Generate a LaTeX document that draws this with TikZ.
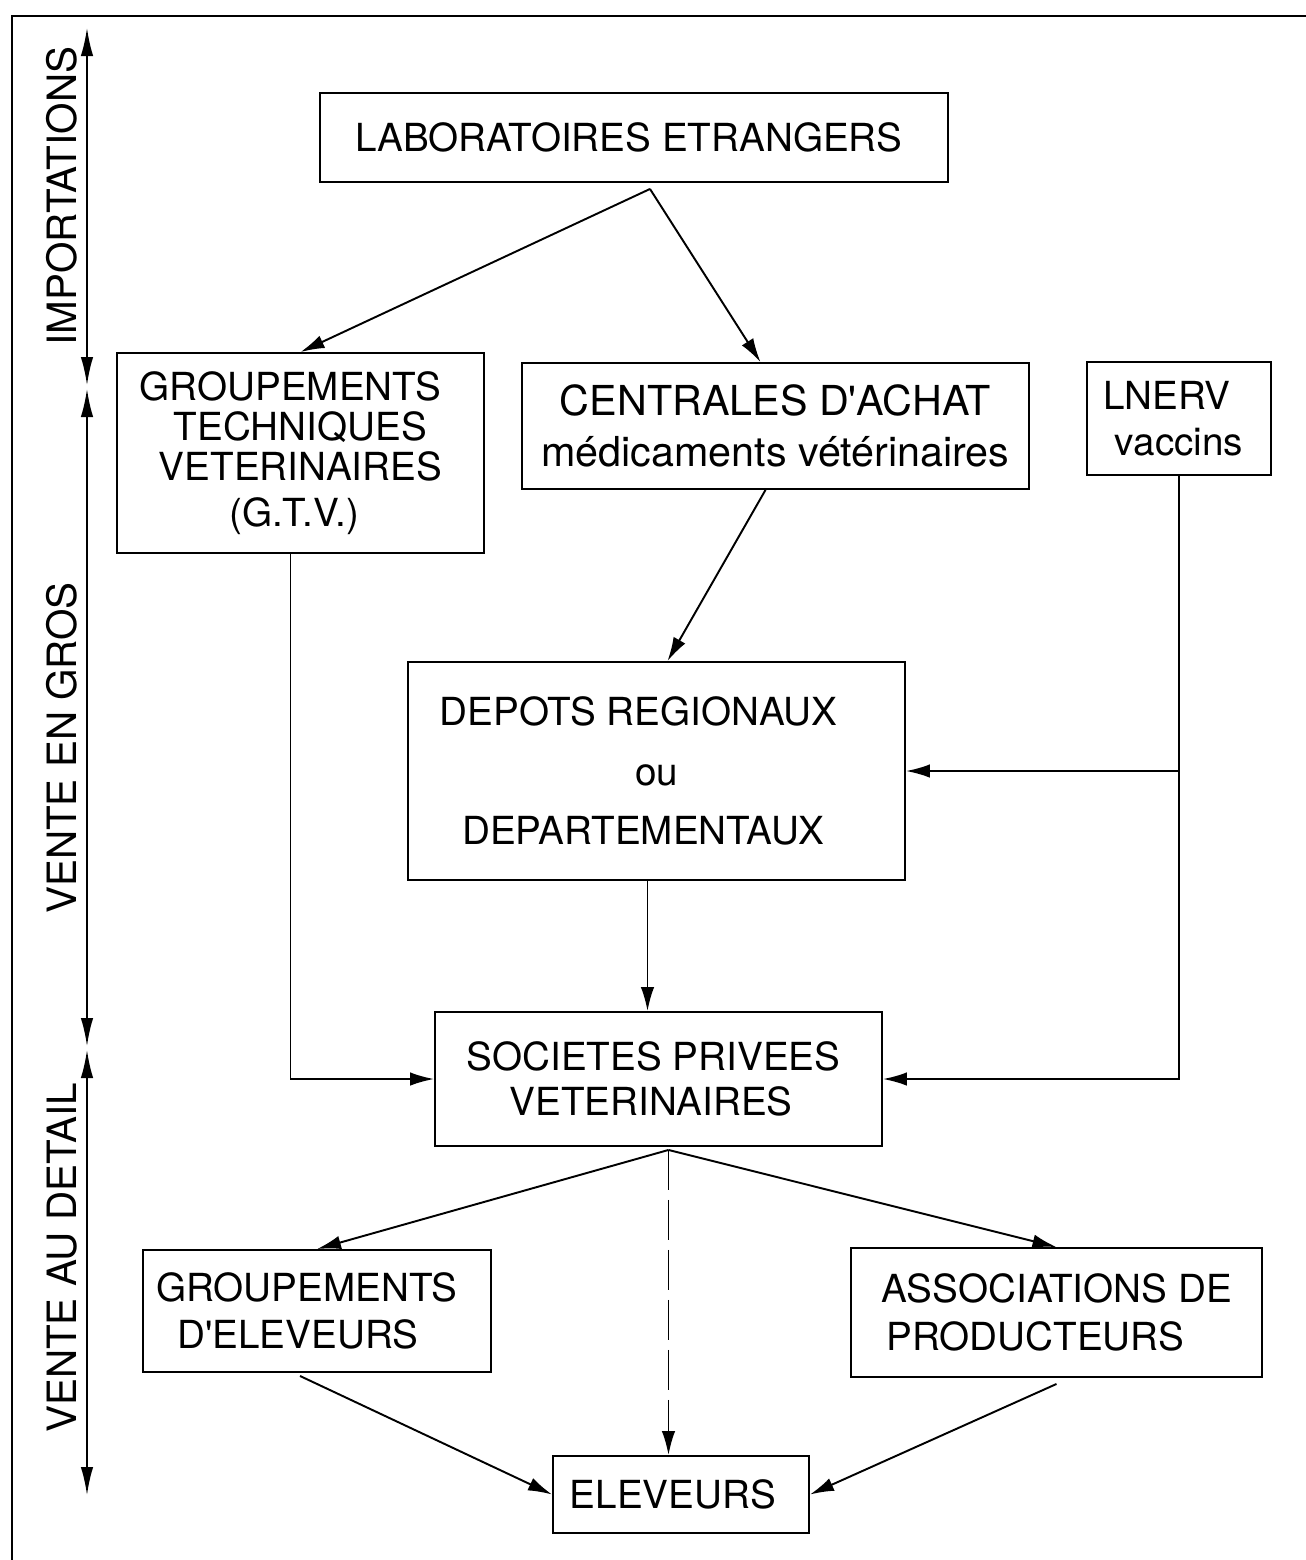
\documentclass[tikz,border=0pt]{standalone}
\usepackage{fontspec}
\setmainfont{TeX Gyre Heros}
\usetikzlibrary{arrows.meta}
\tikzset{
 boite/.style={draw,line width=1.1pt,align=center,inner sep=0pt,font=\fontsize{22}{23}\selectfont},
 fleche/.style={-{Latex[length=0.48cm,width=0.27cm]},line width=1.1pt},
 axe/.style={{Latex[length=0.56cm,width=0.25cm]}-{Latex[length=0.56cm,width=0.25cm]},line width=1.1pt},
 phase/.style={rotate=90,font=\fontsize{23}{26}\selectfont},
}
\newcommand{\gauche}[1]{\hspace*{#1}}
\newcommand{\apos}{\textquotesingle}
\begin{document}
\begin{tikzpicture}[x=0.02cm,y=-0.02cm]
\useasboundingbox (0,0) rectangle (1306,1560);
\draw[line width=1.5pt] (1306,16) -- (12,16) -- (12,1560);
% echelle des phases
\coordinate (ax1) at (87,28);
\coordinate (ax2) at (87,385);
\coordinate (ax3) at (87,389);
\coordinate (ax4) at (87,1046);
\coordinate (ax5) at (87,1050);
\coordinate (ax6) at (87,1495);
\draw[axe] (ax1) -- (ax2);
\draw[axe] (ax3) -- (ax4);
\draw[axe] (ax5) -- (ax6);
\node[phase] (imp) at (62,196) {IMPORTATIONS};
\node[phase] (gros) at (62,748) {VENTE EN GROS};
\node[phase] (detail) at (62,1258) {VENTE AU DETAIL};
% boites
\node[boite,minimum width=12.56cm,minimum height=1.78cm] (lab) at (634,137.5) {LABORATOIRES ETRANGERS\gauche{0.2cm}};
\node[boite,minimum width=7.34cm,minimum height=4cm] (gtv) at (300.5,453) {GROUPEMENTS\gauche{0.4cm}\\TECHNIQUES\gauche{0.5cm}\\VETERINAIRES\gauche{0.4cm}\\[3pt](G.T.V.)\gauche{0.25cm}};
\node[boite,minimum width=10.14cm,minimum height=2.52cm,font=\fontsize{23.5}{23}\selectfont] (centr) at (775.5,426) {CENTRALES D\apos ACHAT\\[6pt]médicaments vétérinaires};
\node[boite,minimum width=3.68cm,minimum height=2.26cm] (lnerv) at (1179,418.5) {LNERV\gauche{0.48cm}\\[3pt]vaccins};
\node[boite,minimum width=9.94cm,minimum height=4.36cm] (depots) at (656.5,771) {DEPOTS REGIONAUX\gauche{0.72cm}\\[11pt]ou\gauche{1.24cm}\\[11pt]DEPARTEMENTAUX\gauche{0.52cm}};
\node[boite,minimum width=8.94cm,minimum height=2.68cm] (soc) at (658.5,1079) {SOCIETES PRIVEES\gauche{0.2cm}\\[3pt]VETERINAIRES\gauche{0.3cm}};
\node[boite,minimum width=6.96cm,minimum height=2.44cm] (grel) at (317,1311) {GROUPEMENTS\gauche{0.4cm}\\[4pt]D\apos ELEVEURS\gauche{0.76cm}};
\node[boite,minimum width=8.22cm,minimum height=2.58cm] (assoc) at (1056.5,1312.5) {ASSOCIATIONS DE\\[4pt]PRODUCTEURS\gauche{0.84cm}};
\node[boite,minimum width=5.12cm,minimum height=1.54cm] (elev) at (681,1494.5) {ELEVEURS\gauche{0.32cm}};
% liaisons
\coordinate (lab-out) at ([xshift=0.32cm,yshift=-0.12cm]lab.south);
\coordinate (soc-out) at ([xshift=0.2cm,yshift=-0.06cm]soc.south);
\draw[fleche] (lab-out) -- (gtv.north);
\draw[fleche] (lab-out) -- ([xshift=-0.3cm]centr.north);
\draw[fleche] ([xshift=-0.2cm]centr.south) -- ([xshift=0.22cm]depots.north);
\draw[fleche] (lnerv.south) |- (soc.east);
\draw[fleche] (lnerv.south |- depots.east) -- (depots.east);
\draw[fleche] ([xshift=-0.2cm]gtv.south) |- (soc.west);
\draw[fleche] ([xshift=-0.18cm]depots.south) -- ([xshift=-0.18cm]depots.south |- soc.north);
\draw[fleche] (soc-out) -- (grel.north);
\draw[fleche] (soc-out) -- (assoc.north);
\draw[fleche,dash pattern=on 0.8cm off 0.2cm] (soc-out) -- (soc-out |- elev.north);
\draw[fleche] ([xshift=-0.34cm,yshift=-0.06cm]grel.south) -- (elev.west);
\draw[fleche] ([yshift=-0.12cm]assoc.south) -- (elev.east);
\end{tikzpicture}
\end{document}
